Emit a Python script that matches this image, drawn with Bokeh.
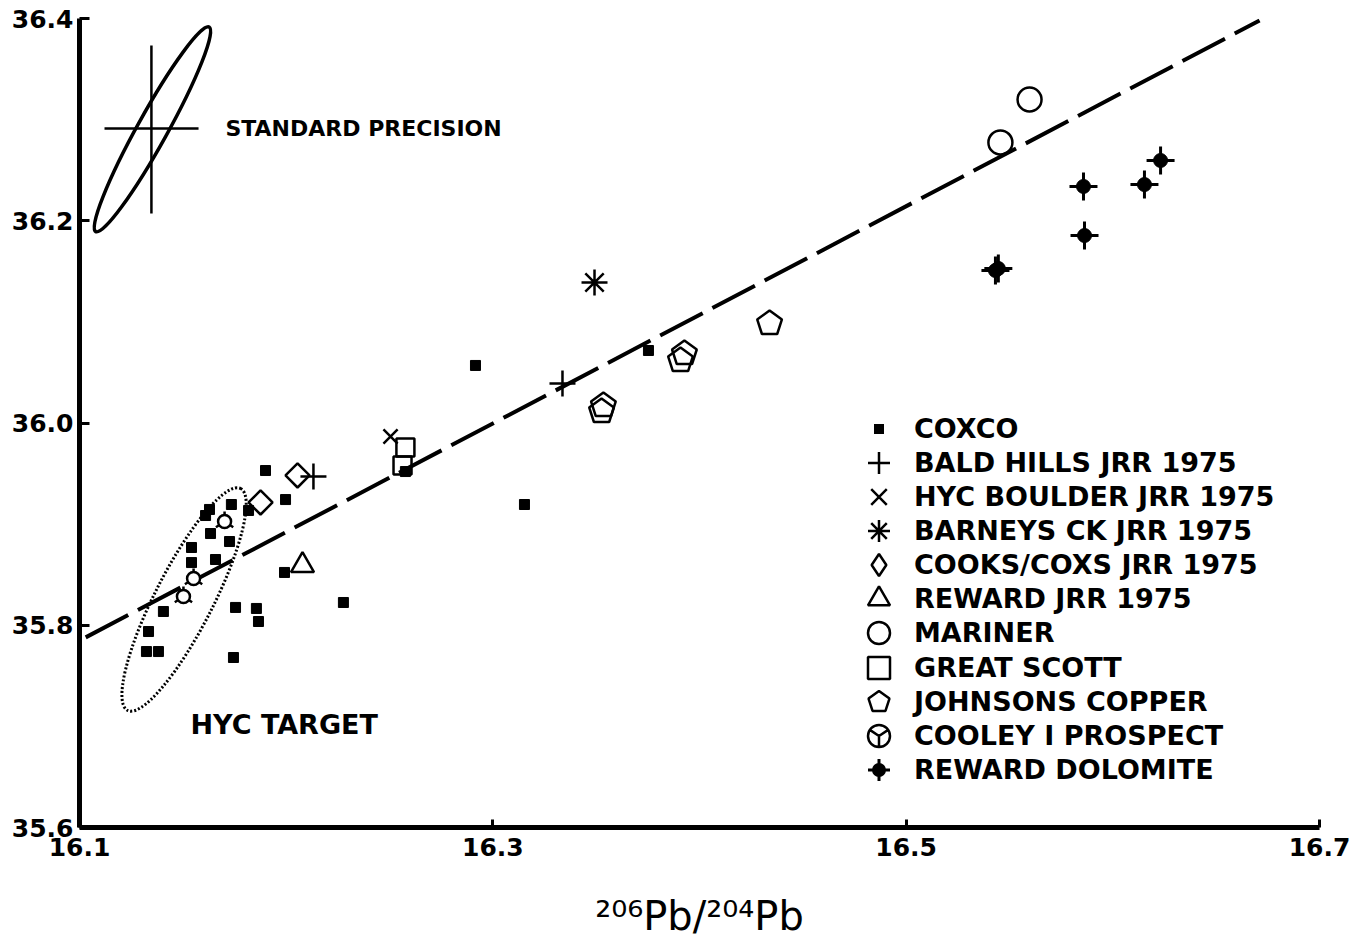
import math
from bokeh.plotting import figure
from bokeh.models import Range1d, FixedTicker, PrintfTickFormatter, Legend, LegendItem
from bokeh.core.properties import value
from bokeh.embed import file_html
from bokeh.resources import INLINE

# ---------------- data (206Pb/204Pb vs 208Pb/204Pb) ----------------
coxco_x = [16.1900, 16.1997, 16.1735, 16.1629, 16.1610, 16.1818, 16.1634, 16.1726, 16.1542,
           16.1658, 16.1542, 16.1992, 16.2277, 16.1755, 16.1856, 16.1866, 16.1406, 16.1334,
           16.1324, 16.1382, 16.1745, 16.2916, 16.3753, 16.3153, 16.2577]
coxco_y = [35.9530, 35.9243, 35.9194, 35.9145, 35.9085, 35.9135, 35.8907, 35.8828, 35.8769,
           35.8650, 35.8620, 35.8522, 35.8225, 35.8176, 35.8166, 35.8037, 35.8136, 35.7938,
           35.7740, 35.7740, 35.7681, 36.0569, 36.0717, 35.9194, 35.9520]
bald_x = [16.2132, 16.3337]
bald_y = [35.9471, 36.0391]
hyc_x = [16.2505]
hyc_y = [35.9867]
barneys_x = [16.3492]
barneys_y = [36.1389]
cooks_x = [16.2055, 16.1876]
cooks_y = [35.9481, 35.9214]
reward_x = [16.2079]
reward_y = [35.8591]
mariner_x = [16.5456, 16.5597]
mariner_y = [36.2774, 36.3199]
scott_x = [16.2577, 16.2563]
scott_y = [35.9758, 35.9580]
johnson_x = [16.4339, 16.3927, 16.3908, 16.3535, 16.3526]
johnson_y = [36.0984, 36.0687, 36.0618, 36.0173, 36.0114]
cooley_x = [16.1702, 16.1552, 16.1503]
cooley_y = [35.9026, 35.8462, 35.8284]
dolomite_x = [16.6231, 16.6153, 16.5858, 16.5863, 16.5432, 16.5446]
dolomite_y = [36.2596, 36.2358, 36.2339, 36.1854, 36.1508, 36.1528]

fit_x = [16.103, 16.671]
fit_y = [35.788, 36.398]

# standard precision ellipse and error cross
prec_x = [16.1353]
prec_y = [36.2904]
prec_w = [0.1132]
prec_h = [0.0297]
prec_angle_deg = 61
cross_v_x = [16.1348, 16.1348]
cross_v_y = [36.2072, 36.3733]
cross_h_x = [16.1121, 16.1576]
cross_h_y = [36.2912, 36.2912]

# HYC target ellipse
hyc_t_x = [16.1506]
hyc_t_y = [35.8255]
hyc_t_w = [0.1205]
hyc_t_h = [0.0574]
hyc_t_angle_deg = 63

x_ticks = [16.1, 16.3, 16.5, 16.7]
y_ticks = [35.6, 35.8, 36.0, 36.2, 36.4]

labels = ["COXCO", "BALD HILLS JRR 1975", "HYC BOULDER JRR 1975", "BARNEYS CK JRR 1975",
          "COOKS/COXS JRR 1975", "REWARD JRR 1975", "MARINER", "GREAT SCOTT",
          "JOHNSONS COPPER", "COOLEY I PROSPECT", "REWARD DOLOMITE"]

FONT = "DejaVu Sans"

p = figure(frame_width=1240, frame_height=809,
           x_range=Range1d(16.1, 16.7), y_range=Range1d(35.6, 36.4),
           output_backend="svg", toolbar_location=None,
           min_border_left=79, min_border_top=18, min_border_right=40, min_border_bottom=108)
p.outline_line_color = None
p.grid.visible = False
p.background_fill_color = "white"

for ax in (p.xaxis[0], p.yaxis[0]):
    ax.axis_line_width = 5
    ax.axis_line_color = "black"
    ax.major_tick_line_width = 3
    ax.major_tick_out = 0
    ax.minor_tick_line_color = None
    ax.major_label_text_font = FONT
    ax.major_label_text_font_style = "bold"
    ax.major_label_text_font_size = "25px"
    ax.major_label_text_color = "black"

p.xaxis.ticker = FixedTicker(ticks=x_ticks)
p.yaxis.ticker = FixedTicker(ticks=y_ticks)
p.xaxis.formatter = PrintfTickFormatter(format="%.1f")
p.yaxis.formatter = PrintfTickFormatter(format="%.1f")
p.xaxis.major_tick_in = 8
p.yaxis.major_tick_in = 10
p.xaxis.major_label_standoff = 10
p.yaxis.major_label_standoff = 6
p.xaxis.axis_label = "\u00b2\u2070\u2076Pb/\u00b2\u2070\u2074Pb"
p.xaxis.axis_label_text_font = FONT
p.xaxis.axis_label_text_font_style = "normal"
p.xaxis.axis_label_text_font_size = "40px"
p.xaxis.axis_label_text_color = "black"
p.xaxis.axis_label_standoff = 34

# regression line
p.line(fit_x, fit_y, line_color="black", line_width=4, line_dash="48 11")

# annotations
p.ellipse(x=prec_x, y=prec_y, width=prec_w, height=prec_h, angle=math.radians(prec_angle_deg),
          fill_color=None, line_color="black", line_width=3.5)
p.line(cross_v_x, cross_v_y, line_color="black", line_width=2.5)
p.line(cross_h_x, cross_h_y, line_color="black", line_width=2.5)
p.ellipse(x=hyc_t_x, y=hyc_t_y, width=hyc_t_w, height=hyc_t_h, angle=math.radians(hyc_t_angle_deg),
          fill_color=None, line_color="black", line_width=3, line_dash="2 2")
p.text(x=[16.1706], y=[36.2912], text=["STANDARD PRECISION"], text_font=value(FONT),
       text_font_style="bold", text_font_size="22px", text_baseline="middle", text_align="left")
p.text(x=[16.1537], y=[35.7018], text=["HYC TARGET"], text_font=value(FONT),
       text_font_style="bold", text_font_size="27px", text_baseline="middle", text_align="left")

LW = 2.5
r_coxco = p.scatter(coxco_x, coxco_y, marker="square", size=10, fill_color="black", line_color="black")
r_bald = p.scatter(bald_x, bald_y, marker="cross", size=26, line_color="black", line_width=LW)
r_hyc = p.scatter(hyc_x, hyc_y, marker="x", size=20, line_color="black", line_width=LW)
r_barn = p.scatter(barneys_x, barneys_y, marker="asterisk", size=26, line_color="black", line_width=LW)
r_cooks = p.scatter(cooks_x, cooks_y, marker="square", angle=math.pi / 4, size=17,
                    fill_color=None, line_color="black", line_width=LW)
r_reward = p.scatter(reward_x, reward_y, marker="triangle", size=23, fill_color=None,
                     line_color="black", line_width=LW)
r_mar = p.scatter(mariner_x, mariner_y, marker="circle", size=24, fill_color=None,
                  line_color="black", line_width=LW)
r_scott = p.scatter(scott_x, scott_y, marker="square", size=18, fill_color=None,
                    line_color="black", line_width=LW)
if hasattr(p, "ngon"):
    r_john = p.ngon(x=johnson_x, y=johnson_y, radius=13, radius_units="screen", n=5,
                    angle=0, fill_color=None, line_color="black", line_width=LW)
else:
    r_john = p.scatter(johnson_x, johnson_y, marker="hex", size=24, fill_color=None,
                       line_color="black", line_width=LW)
r_cool_y = p.scatter(cooley_x, cooley_y, marker="y", angle=math.pi, size=20,
                     line_color="black", line_width=LW)
r_cool_c = p.scatter(cooley_x, cooley_y, marker="circle", size=13, fill_color="white",
                     line_color="black", line_width=LW)
r_dol_x = p.scatter(dolomite_x, dolomite_y, marker="cross", size=28, line_color="black", line_width=3)
r_dol_c = p.scatter(dolomite_x, dolomite_y, marker="circle", size=14, fill_color="black",
                    line_color="black")

# legend proxies (NaN -> not drawn in the plot)
nan = [float("nan")]
lg_coxco = p.scatter(nan, nan, marker="square", fill_color="black", line_color="white", line_width=12)
lg_cooks = p.scatter(nan, nan, marker="diamond", fill_color=None, line_color="black", line_width=LW)
lg_cool = p.scatter(nan, nan, marker="circle_y", fill_color="white", line_color="black", line_width=LW)
lg_dol_c = p.scatter(nan, nan, marker="circle", fill_color="black", line_color="white", line_width=8)

legend_renderers = [[lg_coxco], [r_bald], [r_hyc], [r_barn], [lg_cooks], [r_reward], [r_mar],
                    [r_scott], [r_john], [lg_cool], [lg_dol_c, r_dol_x]]

# one single-entry legend per row (screen-unit layout: 34 px row pitch)
GLYPH = 55
ROW_PITCH = 34.15
FIRST_ROW_FROM_TOP = 410  # row centre, px below frame top
for i, (lab, rends) in enumerate(zip(labels, legend_renderers)):
    centre_from_top = FIRST_ROW_FROM_TOP + ROW_PITCH * i
    loc_y = 809 - centre_from_top - GLYPH / 2
    lg = Legend(items=[LegendItem(label=lab, renderers=rends)], location=(772, loc_y),
                glyph_width=GLYPH, glyph_height=GLYPH, padding=0, margin=0, spacing=0,
                label_standoff=8, label_text_font=FONT, label_text_font_style="bold",
                label_text_font_size="27px", label_text_baseline="middle",
                label_text_color="black",
                border_line_color=None, background_fill_alpha=0)
    p.add_layout(lg)

open("out.html", "w").write(file_html(p, INLINE))
